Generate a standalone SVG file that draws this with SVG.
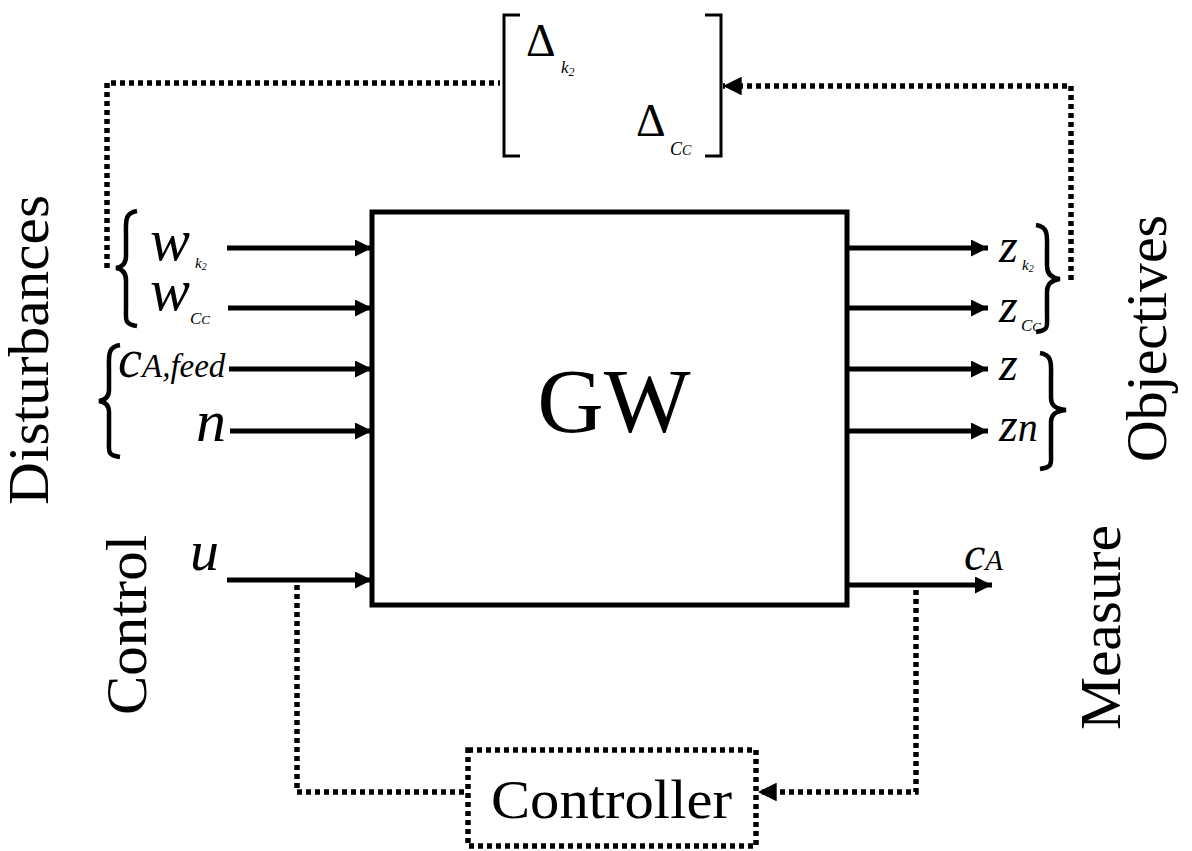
<svg xmlns="http://www.w3.org/2000/svg" width="1192" height="851" viewBox="0 0 1192 851">
<style>
.t{font-family:"Liberation Serif","DejaVu Serif",serif;fill:#000}
.i{font-style:italic}
.ln{stroke:#000;stroke-width:5;fill:none}
.dot{stroke:#000;stroke-width:5.5;fill:none;stroke-dasharray:5 4}
.br{stroke:#000;stroke-width:3;fill:none}
.bc{stroke:#000;stroke-width:4.5;fill:none}
</style>
<defs>
<marker id="ah" viewBox="0 0 10 10" refX="10" refY="5" markerWidth="4" markerHeight="3.4" orient="auto" markerUnits="strokeWidth">
<path d="M0,0 L10,5 L0,10 Z" fill="#000"/>
</marker>
</defs>
<rect width="1192" height="851" fill="#fff"/>
<g id="plant">
<rect x="372" y="212" width="475" height="393" class="ln"/>
<text x="614" y="432" class="t" font-size="92" text-anchor="middle">GW</text>
</g>
<g id="uncertainty">
<path d="M520,15 H504 V156 H520 M705,15 H721 V156 H705" class="br"/>
<text x="526" y="56" class="t" font-size="46">Δ</text>
<text x="561" y="73" class="t i" font-size="17">k<tspan font-size="12" dy="3">2</tspan></text>
<text x="636" y="136" class="t" font-size="46">Δ</text>
<text x="670" y="155" class="t i" font-size="18">C<tspan font-size="14">C</tspan></text>
</g>
<g id="controller">
<rect x="468" y="750" width="288" height="96" class="dot"/>
<text x="491" y="818" class="t" font-size="54" textLength="241" lengthAdjust="spacingAndGlyphs">Controller</text>
</g>
<g id="labels">
<text transform="translate(48,505) rotate(-90)" class="t" font-size="56" textLength="310" lengthAdjust="spacingAndGlyphs">Disturbances</text>
<text transform="translate(1166,462) rotate(-90)" class="t" font-size="56" textLength="247" lengthAdjust="spacingAndGlyphs">Objectives</text>
<text transform="translate(146,715) rotate(-90)" class="t" font-size="56" textLength="180" lengthAdjust="spacingAndGlyphs">Control</text>
<text transform="translate(1120,730) rotate(-90)" class="t" font-size="56" textLength="205" lengthAdjust="spacingAndGlyphs">Measure</text>
<path d="M137,211 C124,213 126,222 126,238 L126,256 C126,263 122,267 116,268 C122,269 126,273 126,280 L126,308 C126,320 124,324 137,326" class="bc"/>
<path d="M120,345 C107,347 109,356 109,372 L109,390 C109,397 105,400 99,401 C105,402 109,405 109,412 L109,440 C109,452 107,455 120,457" class="bc"/>
<path d="M1036,225 C1049,227 1047,236 1047,252 L1047,266 C1047,273 1051,278 1060,279 C1051,280 1047,285 1047,292 L1047,315 C1047,327 1049,330 1036,332" class="bc"/>
<path d="M1040,353 C1053,355 1051,364 1051,380 L1051,398 C1051,405 1055,409 1066,410 C1055,411 1051,415 1051,422 L1051,452 C1051,464 1053,467 1040,469" class="bc"/>
<text x="150" y="260" class="t i" font-size="60">w</text>
<text x="195" y="268" class="t i" font-size="15">k<tspan font-size="10" dy="2">2</tspan></text>
<text x="150" y="310" class="t i" font-size="60">w</text>
<text x="190" y="324" class="t i" font-size="17">C<tspan font-size="13">C</tspan></text>
<text x="118" y="377" class="t i" font-size="54">c<tspan font-size="33">A,feed</tspan></text>
<text x="226" y="441" class="t i" font-size="60" text-anchor="end">n</text>
<text x="219" y="570" class="t i" font-size="58" text-anchor="end">u</text>
<text x="999" y="262" class="t i" font-size="48">z</text>
<text x="1022" y="270" class="t i" font-size="15">k<tspan font-size="10" dy="2">2</tspan></text>
<text x="999" y="322" class="t i" font-size="48">z</text>
<text x="1021" y="331" class="t i" font-size="17">C<tspan font-size="13">C</tspan></text>
<text x="999" y="380" class="t i" font-size="48">z</text>
<text x="999" y="441" class="t i" font-size="48">z<tspan font-size="40">n</tspan></text>
<text x="964" y="570" class="t i" font-size="48">c<tspan font-size="29">A</tspan></text>
</g>
<g id="connectors">
<line x1="227" y1="248" x2="372" y2="248" class="ln" marker-end="url(#ah)"/>
<line x1="228" y1="308" x2="372" y2="308" class="ln" marker-end="url(#ah)"/>
<line x1="229" y1="369" x2="372" y2="369" class="ln" marker-end="url(#ah)"/>
<line x1="230" y1="431" x2="372" y2="431" class="ln" marker-end="url(#ah)"/>
<line x1="227" y1="580" x2="372" y2="580" class="ln" marker-end="url(#ah)"/>
<line x1="847" y1="248" x2="988" y2="248" class="ln" marker-end="url(#ah)"/>
<line x1="847" y1="308" x2="988" y2="308" class="ln" marker-end="url(#ah)"/>
<line x1="847" y1="369" x2="988" y2="369" class="ln" marker-end="url(#ah)"/>
<line x1="847" y1="431" x2="988" y2="431" class="ln" marker-end="url(#ah)"/>
<line x1="847" y1="585" x2="992" y2="585" class="ln" marker-end="url(#ah)"/>
<path d="M107,268 V83 H500" class="dot"/>
<path d="M1071,280 V86 H723" class="dot" marker-end="url(#ah)"/>
<path d="M297,585 V792 H466" class="dot"/>
<path d="M916,590 V792 H758" class="dot" marker-end="url(#ah)"/>
</g>
</svg>
